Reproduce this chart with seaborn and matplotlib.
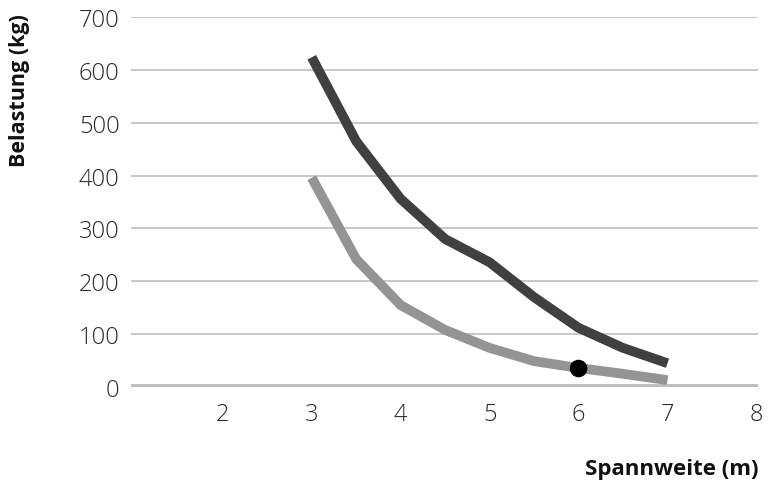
import matplotlib
matplotlib.use("Agg")
import matplotlib.pyplot as plt
import seaborn as sns
import pandas as pd

# Spannweite (m) and Belastung (kg)
spannweite = [3, 3.5, 4, 4.5, 5, 5.5, 6, 6.5, 7]
belastung_hoch = [624, 465, 356, 280, 236, 170, 112, 74, 45]
belastung_tief = [396, 242, 155, 108, 74, 49, 36, 25, 13]
punkt_x = [6]
punkt_y = [35]
x_ticks = [2, 3, 4, 5, 6, 7, 8]
y_ticks = [0, 100, 200, 300, 400, 500, 600, 700]

df = pd.DataFrame({
    'Spannweite': spannweite * 2,
    'Belastung': belastung_hoch + belastung_tief,
    'Reihe': ['hoch'] * len(spannweite) + ['tief'] * len(spannweite),
})

sns.set_style('white')
plt.rcParams['font.family'] = ['Open Sans', 'DejaVu Sans']

fig = plt.figure(figsize=(7.69, 4.89), dpi=100)
ax = fig.add_axes([0.170, 0.2065, 0.816, 0.7565])

# grid lines
for y in y_ticks[1:]:
    ax.axhline(y, color='#b9b9bb', lw=1.1, zorder=0)
ax.axhline(0, color='#bdbdbf', lw=4.2, zorder=1, solid_capstyle='butt')

sns.lineplot(data=df, x='Spannweite', y='Belastung', hue='Reihe',
             palette={'hoch': '#404042', 'tief': '#949497'},
             linewidth=7, legend=False, ax=ax, zorder=3)
for line in ax.get_lines()[-2:]:
    line.set_solid_capstyle('butt')
    line.set_solid_joinstyle('miter')

sns.scatterplot(x=punkt_x, y=punkt_y, color='black', s=160, zorder=5, ax=ax,
                edgecolor='none')

ax.set_xlim(0.965, 8.02)
ax.set_ylim(0, 700)
ax.set_xticks(x_ticks)
ax.set_yticks(y_ticks)
ax.set_xticklabels([str(v) for v in x_ticks], fontsize=17, color='#2a2a2a',
                   fontweight='light')
ax.set_yticklabels([str(v) for v in y_ticks], fontsize=17, color='#2a2a2a',
                   fontweight='light')
ax.tick_params(axis='x', length=8, width=1, color='#a9a9ab', pad=3)
ax.tick_params(axis='y', length=0, pad=8)
for s in ax.spines.values():
    s.set_visible(False)
ax.set_xlabel('')
ax.set_ylabel('')

fig.text(0.026, 0.814, 'Belastung (kg)', rotation=90, ha='center', va='center',
         fontsize=15.5, fontweight='bold', color='#111111')
fig.text(0.986, 0.039, 'Spannweite (m)', ha='right', va='center',
         fontsize=16, fontweight='bold', color='#111111')

fig.savefig('out.png', dpi=100)
